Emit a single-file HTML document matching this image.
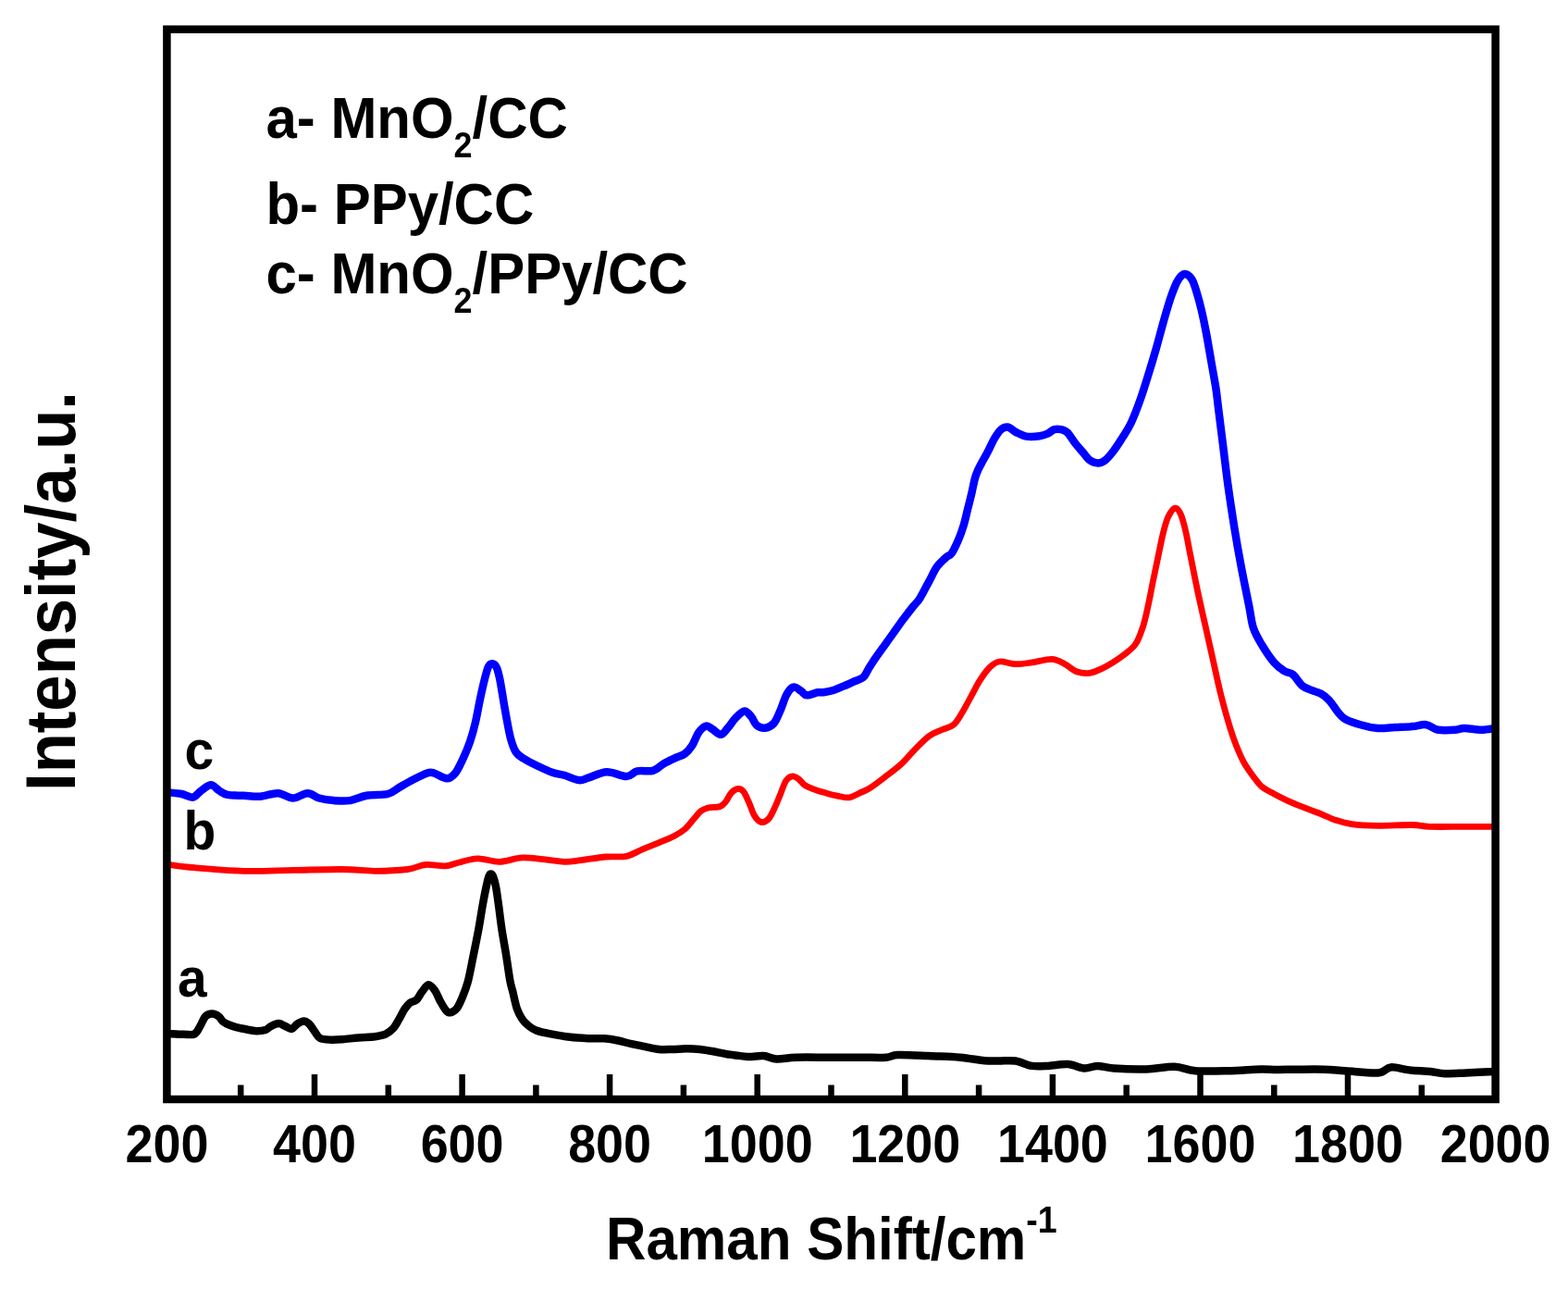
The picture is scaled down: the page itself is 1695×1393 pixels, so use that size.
<!DOCTYPE html>
<html><head><meta charset="utf-8"><title>Raman spectra</title><style>html,body{margin:0;padding:0;background:#fff;}svg{display:block;}</style></head><body>
<svg width="1695" height="1393" viewBox="0 0 1695 1393">
<rect width="1695" height="1393" fill="#fff"/>
<g fill="none" stroke-linejoin="round" stroke-linecap="round">
<path d="M181.0 1117.5 C181.6 1117.5 181.5 1117.2 184.4 1117.2 C187.3 1117.2 194.3 1117.8 198.6 1117.8 C202.9 1117.8 207.4 1118.9 210.4 1117.4 C213.4 1115.9 214.3 1112.2 216.3 1109.0 C218.3 1105.8 220.0 1100.6 222.2 1098.3 C224.4 1096.0 226.9 1095.4 229.3 1095.4 C231.7 1095.4 234.5 1096.9 236.4 1098.3 C238.3 1099.7 239.0 1102.4 241.0 1104.0 C243.0 1105.6 245.4 1106.7 248.2 1107.8 C251.0 1108.9 254.1 1109.8 257.6 1110.7 C261.1 1111.6 266.0 1112.4 269.4 1113.0 C272.8 1113.6 274.8 1114.2 277.7 1114.2 C280.6 1114.2 284.4 1113.9 287.0 1113.0 C289.6 1112.1 290.6 1110.2 293.0 1109.0 C295.4 1107.8 298.8 1106.0 301.3 1106.0 C303.9 1106.0 306.0 1108.0 308.3 1109.0 C310.6 1110.0 313.2 1112.3 315.4 1111.9 C317.6 1111.5 319.1 1108.0 321.3 1106.6 C323.5 1105.2 326.2 1103.4 328.4 1103.4 C330.6 1103.4 332.3 1104.7 334.3 1106.6 C336.3 1108.5 338.2 1112.2 340.2 1114.8 C342.1 1117.4 343.0 1120.5 346.0 1122.0 C349.0 1123.5 354.0 1123.5 358.0 1123.7 C362.0 1123.9 365.1 1123.6 370.0 1123.2 C374.9 1122.8 381.8 1121.9 387.7 1121.4 C393.6 1120.9 400.5 1120.9 405.4 1120.2 C410.3 1119.5 413.8 1118.9 417.2 1117.3 C420.6 1115.7 423.1 1113.4 425.5 1110.8 C427.9 1108.2 429.4 1104.8 431.4 1101.4 C433.4 1098.1 435.3 1093.7 437.3 1090.7 C439.3 1087.8 441.1 1085.4 443.2 1083.7 C445.3 1082.0 448.0 1082.7 450.2 1080.7 C452.4 1078.7 453.9 1074.7 456.1 1071.9 C458.3 1069.2 460.8 1064.4 463.2 1064.2 C465.6 1064.0 468.1 1067.7 470.3 1070.7 C472.5 1073.8 474.2 1079.0 476.2 1082.5 C478.2 1086.0 480.3 1089.9 482.1 1091.9 C483.9 1093.9 484.8 1094.7 486.8 1094.3 C488.8 1093.9 491.7 1092.3 493.9 1089.6 C496.1 1086.8 497.8 1082.5 499.8 1077.8 C501.8 1073.1 503.7 1068.7 505.7 1061.2 C507.7 1053.7 509.8 1042.0 511.7 1032.6 C513.6 1023.2 515.6 1013.9 517.3 1004.6 C519.0 995.3 520.6 984.5 522.0 976.7 C523.4 968.9 524.6 963.0 525.7 958.0 C526.8 953.0 527.7 949.2 528.5 947.0 C529.3 944.8 529.8 944.5 530.5 944.5 C531.2 944.5 532.1 944.8 533.0 947.0 C533.9 949.2 535.0 953.0 536.0 958.0 C537.0 963.0 537.7 968.9 538.8 976.7 C539.9 984.5 541.1 995.3 542.5 1004.6 C543.9 1013.9 545.7 1023.4 547.2 1032.6 C548.7 1041.8 550.2 1053.4 551.4 1060.0 C552.6 1066.6 553.2 1067.0 554.4 1072.0 C555.6 1077.0 557.1 1084.9 558.8 1089.8 C560.5 1094.7 562.5 1098.4 564.7 1101.6 C566.9 1104.8 569.5 1107.0 572.0 1109.0 C574.5 1111.0 575.8 1112.1 579.5 1113.4 C583.2 1114.8 588.1 1115.9 594.2 1117.1 C600.4 1118.3 609.0 1119.9 616.4 1120.8 C623.8 1121.7 632.4 1122.0 638.5 1122.3 C644.6 1122.5 648.3 1121.9 653.2 1122.3 C658.1 1122.7 663.1 1123.5 668.0 1124.5 C672.9 1125.5 677.8 1127.1 682.7 1128.2 C687.6 1129.3 692.6 1130.1 697.5 1131.1 C702.4 1132.1 707.3 1133.5 712.2 1134.0 C717.1 1134.5 722.1 1134.1 727.0 1134.0 C731.9 1133.9 736.8 1133.3 741.7 1133.3 C746.6 1133.3 751.6 1133.5 756.5 1134.0 C761.4 1134.5 766.3 1135.4 771.2 1136.3 C776.1 1137.2 779.9 1138.3 786.0 1139.2 C792.1 1140.1 801.1 1141.6 807.7 1141.9 C814.3 1142.2 820.1 1140.6 825.4 1141.0 C830.7 1141.4 833.7 1144.2 839.6 1144.5 C845.5 1144.8 851.4 1143.0 860.8 1142.7 C870.2 1142.4 884.4 1142.7 896.2 1142.7 C908.0 1142.7 921.3 1142.7 931.6 1142.7 C941.9 1142.7 951.6 1143.2 958.1 1142.7 C964.6 1142.2 963.1 1140.3 970.5 1140.0 C977.9 1139.7 991.2 1140.5 1002.4 1141.0 C1013.6 1141.5 1027.5 1141.8 1037.8 1142.7 C1048.1 1143.6 1057.3 1145.7 1064.3 1146.3 C1071.3 1146.9 1074.4 1146.5 1080.0 1146.5 C1085.6 1146.5 1091.8 1145.6 1097.7 1146.5 C1103.6 1147.4 1109.5 1151.0 1115.4 1151.9 C1121.3 1152.8 1126.6 1152.2 1133.1 1151.9 C1139.6 1151.6 1147.8 1149.7 1154.3 1150.1 C1160.8 1150.5 1166.7 1154.2 1172.0 1154.5 C1177.3 1154.8 1180.9 1151.9 1186.2 1151.9 C1191.5 1151.9 1195.1 1153.9 1203.9 1154.5 C1212.8 1155.1 1228.4 1155.7 1239.3 1155.4 C1250.2 1155.1 1260.6 1152.4 1269.4 1152.7 C1278.2 1153.0 1282.7 1156.5 1292.4 1157.2 C1302.1 1158.0 1316.0 1157.5 1327.8 1157.2 C1339.6 1156.9 1354.5 1155.6 1363.2 1155.4 C1371.9 1155.2 1373.8 1156.0 1380.0 1156.0 C1386.2 1156.0 1392.2 1155.8 1400.7 1155.7 C1409.2 1155.7 1422.3 1155.5 1431.3 1155.7 C1440.2 1156.0 1444.7 1156.6 1454.4 1157.2 C1464.1 1157.8 1481.4 1160.1 1489.6 1159.5 C1497.8 1158.9 1497.8 1153.9 1503.4 1153.4 C1509.0 1152.9 1516.2 1155.6 1523.4 1156.4 C1530.6 1157.2 1540.0 1157.3 1546.4 1158.0 C1552.8 1158.7 1555.3 1160.0 1561.7 1160.3 C1568.1 1160.5 1575.7 1159.9 1584.7 1159.5 C1593.8 1159.1 1610.8 1158.2 1616.0 1158.0" stroke="#000" stroke-width="8.5"/>
<path d="M181.0 934.2 C185.9 934.8 196.7 936.5 210.4 937.7 C224.2 938.9 245.8 940.8 263.5 941.3 C281.2 941.8 298.9 940.7 316.6 940.4 C334.3 940.1 355.0 939.4 369.7 939.5 C384.4 939.6 393.2 941.3 405.0 941.3 C416.8 941.3 431.3 940.6 440.5 939.5 C449.7 938.4 453.2 935.1 460.0 934.5 C466.8 933.9 475.3 936.2 481.2 935.8 C487.1 935.4 489.5 933.5 495.4 932.2 C501.3 930.9 509.2 927.9 516.6 927.8 C524.0 927.6 531.6 931.4 539.6 931.3 C547.6 931.1 556.4 927.3 564.4 926.9 C572.4 926.5 579.7 928.0 587.4 928.7 C595.1 929.4 603.6 931.1 610.4 931.3 C617.2 931.4 620.7 930.5 628.1 929.6 C635.5 928.7 646.5 926.7 654.7 926.0 C662.9 925.3 670.6 926.7 677.2 925.3 C683.8 923.9 688.8 920.2 694.5 917.8 C700.2 915.4 706.0 913.3 711.7 910.9 C717.4 908.5 724.1 905.9 728.9 903.4 C733.7 900.9 736.9 899.0 740.4 896.0 C743.9 893.0 746.7 888.9 749.6 885.6 C752.5 882.4 754.9 878.6 757.6 876.5 C760.3 874.4 762.1 873.8 765.6 873.0 C769.1 872.2 775.3 872.7 778.5 871.5 C781.7 870.3 782.8 868.5 784.8 866.0 C786.8 863.5 788.5 858.9 790.7 856.6 C792.9 854.3 795.6 852.6 797.8 852.4 C800.0 852.2 801.7 852.9 803.7 855.4 C805.7 857.9 807.6 862.9 809.6 867.2 C811.6 871.5 813.3 877.9 815.5 881.4 C817.7 884.9 820.0 887.8 822.6 888.4 C825.2 889.0 828.4 887.6 830.9 884.9 C833.4 882.1 835.8 876.4 837.9 871.9 C840.0 867.4 841.8 862.5 843.8 857.8 C845.8 853.1 847.5 846.8 849.7 843.6 C851.9 840.5 854.4 839.1 856.8 838.9 C859.2 838.7 861.7 840.8 863.9 842.4 C866.1 844.0 866.8 846.4 869.8 848.3 C872.8 850.2 877.7 852.1 881.6 853.6 C885.5 855.1 889.5 856.1 893.4 857.2 C897.3 858.3 901.1 859.3 905.2 860.1 C909.3 860.9 914.3 862.4 918.2 861.9 C922.1 861.4 925.2 858.9 928.8 857.2 C932.4 855.5 935.4 854.8 940.0 851.9 C944.6 849.0 950.8 844.2 956.5 839.8 C962.2 835.4 968.9 830.6 974.2 825.7 C979.5 820.8 983.4 815.6 988.4 810.6 C993.4 805.6 999.3 799.3 1004.3 795.6 C1009.3 791.9 1014.1 790.6 1018.5 788.5 C1022.9 786.4 1027.4 786.2 1030.9 783.2 C1034.4 780.2 1036.5 776.1 1039.7 770.8 C1043.0 765.5 1047.2 757.2 1050.4 751.3 C1053.7 745.4 1056.0 740.4 1059.2 735.4 C1062.4 730.4 1066.3 724.6 1069.8 721.2 C1073.3 717.8 1075.7 715.6 1080.4 715.0 C1085.1 714.4 1092.2 717.6 1098.1 717.7 C1104.0 717.9 1109.3 716.8 1115.8 715.9 C1122.3 715.0 1131.2 712.1 1137.1 712.4 C1143.0 712.7 1146.8 715.5 1151.2 717.7 C1155.6 719.9 1159.2 724.1 1163.6 725.7 C1168.0 727.3 1173.1 728.0 1177.8 727.4 C1182.5 726.8 1187.8 724.0 1192.0 722.1 C1196.2 720.2 1199.1 718.4 1202.7 716.2 C1206.3 714.0 1209.5 712.0 1213.6 708.7 C1217.7 705.4 1223.6 701.6 1227.3 696.4 C1231.0 691.2 1233.2 684.1 1235.5 677.3 C1237.8 670.5 1239.1 663.7 1240.9 655.5 C1242.7 647.3 1244.6 637.1 1246.4 628.2 C1248.2 619.3 1250.0 610.9 1251.8 602.3 C1253.6 593.7 1255.5 583.7 1257.3 576.4 C1259.1 569.1 1260.6 563.1 1262.8 558.6 C1265.0 554.1 1268.0 549.6 1270.3 549.1 C1272.6 548.6 1274.5 551.6 1276.4 555.9 C1278.3 560.2 1280.2 567.6 1281.9 575.0 C1283.6 582.4 1284.7 589.6 1286.8 600.0 C1288.9 610.4 1291.7 624.9 1294.3 637.3 C1296.9 649.7 1299.8 662.2 1302.6 674.6 C1305.4 687.0 1308.2 699.5 1311.0 711.9 C1313.8 724.3 1316.3 736.8 1319.4 749.3 C1322.5 761.8 1326.9 777.3 1329.7 786.6 C1332.5 795.9 1333.7 799.0 1336.2 805.2 C1338.7 811.4 1341.5 818.2 1344.6 823.9 C1347.7 829.6 1351.6 834.8 1354.9 839.2 C1358.2 843.6 1360.6 847.3 1364.3 850.4 C1368.0 853.5 1372.0 855.1 1377.3 857.9 C1382.6 860.7 1389.8 864.4 1396.0 867.2 C1402.2 870.0 1409.1 872.5 1414.7 874.7 C1420.3 876.9 1424.9 878.4 1429.6 880.3 C1434.3 882.2 1437.4 884.2 1442.7 885.9 C1448.0 887.6 1453.5 889.5 1461.3 890.6 C1469.1 891.7 1478.4 892.2 1489.3 892.4 C1500.2 892.5 1517.3 891.3 1526.7 891.5 C1536.1 891.7 1536.1 893.1 1545.4 893.4 C1554.7 893.7 1570.9 893.4 1582.7 893.4 C1594.5 893.4 1610.7 893.4 1616.3 893.4" stroke="#f00" stroke-width="6.8"/>
<path d="M181.0 856.3 C183.5 856.6 191.6 857.1 196.2 858.0 C200.8 858.9 205.0 862.2 208.6 861.6 C212.2 861.0 214.2 856.7 217.5 854.5 C220.8 852.3 224.8 848.3 228.1 848.3 C231.3 848.3 234.1 852.7 237.0 854.5 C239.9 856.3 241.4 858.0 245.8 858.9 C250.2 859.8 257.6 859.5 263.5 859.8 C269.4 860.1 275.0 861.1 281.2 860.7 C287.4 860.3 294.8 856.9 300.7 857.2 C306.6 857.5 311.3 862.5 316.6 862.5 C321.9 862.5 327.8 857.2 332.5 857.2 C337.2 857.2 340.2 861.2 344.9 862.5 C349.6 863.8 355.2 864.7 360.8 865.1 C366.4 865.5 372.6 866.0 378.5 865.1 C384.4 864.2 389.4 861.0 396.2 859.8 C403.0 858.6 413.3 859.5 419.2 858.0 C425.1 856.5 427.2 853.5 431.6 851.0 C436.0 848.5 440.8 845.6 445.8 843.0 C450.8 840.4 457.8 836.8 461.7 835.5 C465.6 834.2 465.6 834.5 469.2 835.5 C472.8 836.5 479.2 841.3 483.0 841.3 C486.8 841.3 489.3 839.0 492.2 835.5 C495.1 832.0 497.5 826.3 500.2 820.6 C502.9 814.9 505.9 807.8 508.2 801.1 C510.5 794.4 512.3 787.7 514.0 780.4 C515.7 773.1 517.1 764.7 518.6 757.4 C520.1 750.1 521.7 742.9 523.2 736.8 C524.7 730.7 526.3 724.0 527.8 720.7 C529.3 717.4 530.9 717.0 532.4 717.2 C533.9 717.4 535.7 718.9 537.0 721.8 C538.3 724.7 539.2 729.0 540.4 734.5 C541.5 740.0 542.8 748.4 543.9 755.1 C545.0 761.8 546.0 767.6 547.3 774.7 C548.6 781.8 550.2 791.3 551.9 797.6 C553.6 803.9 555.3 809.0 557.6 812.6 C559.9 816.2 561.9 817.0 565.7 819.5 C569.5 822.0 575.2 824.9 580.6 827.5 C586.0 830.1 592.9 833.3 597.8 835.0 C602.7 836.7 605.3 836.4 610.0 837.8 C614.7 839.1 621.5 842.7 625.9 843.1 C630.3 843.5 631.5 841.9 636.5 840.4 C641.5 838.9 649.2 834.4 656.0 834.2 C662.8 834.0 671.8 839.2 677.2 839.1 C682.7 839.0 683.9 834.5 688.7 833.4 C693.5 832.3 701.1 834.1 705.9 832.8 C710.7 831.5 713.6 827.6 717.4 825.4 C721.2 823.2 725.1 821.4 728.9 819.6 C732.7 817.8 737.1 816.9 740.4 814.5 C743.6 812.1 745.9 809.1 748.4 805.3 C750.9 801.5 752.8 795.0 755.3 791.5 C757.8 788.0 760.9 785.2 763.4 784.6 C765.9 784.0 767.5 786.5 770.2 788.0 C772.9 789.5 776.6 794.1 779.4 793.8 C782.2 793.5 784.5 789.1 787.2 786.1 C789.9 783.1 792.5 778.5 795.5 775.5 C798.5 772.5 802.1 768.6 804.9 768.4 C807.6 768.2 809.8 771.8 812.0 774.3 C814.2 776.8 815.4 781.6 817.9 783.7 C820.4 785.8 824.1 787.1 827.3 786.7 C830.4 786.3 834.0 784.6 836.8 781.4 C839.5 778.1 841.6 772.1 843.8 767.2 C845.9 762.3 847.7 755.8 849.7 751.9 C851.7 748.0 853.8 745.1 855.6 743.6 C857.4 742.1 858.6 742.4 860.4 743.0 C862.2 743.6 864.3 745.7 866.3 747.1 C868.3 748.5 869.2 751.1 872.2 751.3 C875.2 751.5 881.0 748.8 884.0 748.3 C887.0 747.8 887.2 748.6 890.0 748.2 C892.8 747.8 897.2 747.1 900.8 746.0 C904.4 744.9 907.9 743.2 911.5 741.7 C915.1 740.2 918.7 738.5 922.3 736.9 C925.9 735.3 930.4 734.2 933.1 732.0 C935.8 729.8 936.7 726.3 938.5 723.4 C940.3 720.5 941.2 718.8 943.9 714.8 C946.6 710.8 951.0 704.7 954.6 699.7 C958.2 694.7 961.8 689.6 965.4 684.6 C969.0 679.6 972.6 674.5 976.2 669.6 C979.8 664.8 984.0 659.3 987.0 655.5 C990.0 651.7 991.4 651.3 994.3 646.7 C997.2 642.1 1001.3 633.8 1004.4 628.1 C1007.5 622.4 1009.9 616.6 1013.0 612.3 C1016.1 608.0 1020.4 604.6 1023.0 602.2 C1025.6 599.8 1026.6 601.0 1028.8 597.9 C1031.0 594.8 1033.8 588.5 1036.0 583.5 C1038.2 578.5 1040.0 573.2 1041.7 567.7 C1043.4 562.2 1044.6 556.2 1046.0 550.5 C1047.4 544.8 1048.9 539.3 1050.3 533.3 C1051.7 527.3 1052.9 519.9 1054.6 514.6 C1056.3 509.3 1058.2 506.0 1060.4 501.7 C1062.6 497.4 1065.1 493.4 1067.5 488.8 C1069.9 484.2 1072.3 478.5 1074.7 474.4 C1077.1 470.3 1079.5 466.5 1081.9 464.4 C1084.3 462.2 1086.7 461.3 1089.1 461.5 C1091.5 461.7 1094.5 464.7 1096.3 465.8 C1098.1 466.9 1097.9 467.0 1100.1 468.0 C1102.3 469.0 1105.5 471.1 1109.4 471.6 C1113.3 472.1 1119.7 471.8 1123.6 471.2 C1127.5 470.6 1130.3 469.5 1133.0 468.3 C1135.7 467.1 1137.2 464.8 1139.6 464.1 C1142.0 463.4 1144.8 463.6 1147.2 464.1 C1149.6 464.7 1151.4 465.1 1153.8 467.4 C1156.2 469.7 1158.6 474.2 1161.4 477.8 C1164.2 481.4 1168.0 485.8 1170.8 489.1 C1173.6 492.4 1175.6 495.7 1178.3 497.6 C1181.0 499.5 1184.1 500.4 1186.8 500.4 C1189.5 500.4 1191.6 499.8 1194.4 497.6 C1197.2 495.4 1200.7 491.3 1203.8 487.2 C1206.9 483.1 1210.1 478.0 1213.3 473.0 C1216.5 468.0 1219.4 464.0 1222.7 457.0 C1226.0 450.0 1229.7 440.2 1232.9 431.2 C1236.1 422.2 1239.2 411.8 1242.0 402.8 C1244.8 393.8 1247.1 386.1 1249.7 377.0 C1252.3 367.9 1254.9 357.6 1257.5 348.5 C1260.1 339.4 1262.8 329.8 1265.2 322.7 C1267.6 315.6 1269.8 310.0 1271.7 305.9 C1273.7 301.8 1275.2 299.7 1276.9 298.1 C1278.6 296.5 1280.1 295.6 1282.0 296.2 C1283.9 296.8 1286.5 298.7 1288.5 302.0 C1290.5 305.3 1292.0 310.6 1293.7 316.2 C1295.4 321.8 1297.2 328.3 1298.9 335.6 C1300.6 342.9 1302.3 351.1 1304.0 360.1 C1305.7 369.2 1307.5 380.0 1309.2 389.9 C1310.9 399.8 1313.1 411.2 1314.4 419.6 C1315.7 428.0 1315.6 429.4 1316.9 440.0 C1318.2 450.6 1320.5 468.7 1322.3 483.1 C1324.1 497.5 1325.7 511.8 1327.7 526.2 C1329.7 540.6 1331.9 554.9 1334.2 569.3 C1336.5 583.6 1339.0 597.9 1341.7 612.3 C1344.4 626.6 1348.1 644.3 1350.3 655.4 C1352.5 666.5 1352.6 671.7 1354.9 678.7 C1357.2 685.7 1360.6 691.1 1364.3 697.3 C1368.0 703.5 1373.3 711.3 1377.3 716.0 C1381.3 720.7 1385.1 723.1 1388.5 725.3 C1391.9 727.5 1394.5 726.3 1397.9 729.1 C1401.3 731.9 1404.1 738.7 1409.1 742.1 C1414.1 745.5 1423.0 747.1 1427.7 749.6 C1432.4 752.1 1433.0 752.8 1437.1 757.1 C1441.1 761.5 1446.4 771.4 1452.0 775.7 C1457.6 780.1 1464.5 781.3 1470.7 783.2 C1476.9 785.1 1483.1 786.4 1489.3 786.9 C1495.5 787.4 1501.8 786.3 1508.0 786.0 C1514.2 785.7 1521.1 785.6 1526.7 785.1 C1532.3 784.6 1536.9 782.6 1541.6 783.2 C1546.3 783.8 1549.4 787.9 1554.7 788.8 C1560.0 789.7 1568.7 789.1 1573.4 788.8 C1578.1 788.5 1578.0 786.9 1582.7 786.9 C1587.4 786.9 1595.8 788.8 1601.4 788.8 C1607.0 788.8 1613.8 787.2 1616.3 786.9" stroke="#00f" stroke-width="8.5"/>
</g>
<path d="M180.4 1188V1161 M340.0 1188V1161 M499.6 1188V1161 M659.1 1188V1161 M818.7 1188V1161 M978.3 1188V1161 M1137.9 1188V1161 M1297.5 1188V1161 M1457.0 1188V1161 M1616.6 1188V1161 M260.2 1188V1172.5 M419.8 1188V1172.5 M579.4 1188V1172.5 M738.9 1188V1172.5 M898.5 1188V1172.5 M1058.1 1188V1172.5 M1217.7 1188V1172.5 M1377.3 1188V1172.5 M1536.8 1188V1172.5" stroke="#000" stroke-width="6.5" fill="none"/>
<rect x="180.4" y="31.7" width="1436.2" height="1156.3" fill="none" stroke="#000" stroke-width="8.5"/>
<text transform="translate(180.4 1255.8) scale(0.929 1)" text-anchor="middle" font-family="'Liberation Sans', Arial, sans-serif" font-weight="bold" font-size="58">200</text>
<text transform="translate(340.0 1255.8) scale(0.929 1)" text-anchor="middle" font-family="'Liberation Sans', Arial, sans-serif" font-weight="bold" font-size="58">400</text>
<text transform="translate(499.6 1255.8) scale(0.929 1)" text-anchor="middle" font-family="'Liberation Sans', Arial, sans-serif" font-weight="bold" font-size="58">600</text>
<text transform="translate(659.1 1255.8) scale(0.929 1)" text-anchor="middle" font-family="'Liberation Sans', Arial, sans-serif" font-weight="bold" font-size="58">800</text>
<text transform="translate(818.7 1255.8) scale(0.929 1)" text-anchor="middle" font-family="'Liberation Sans', Arial, sans-serif" font-weight="bold" font-size="58">1000</text>
<text transform="translate(978.3 1255.8) scale(0.929 1)" text-anchor="middle" font-family="'Liberation Sans', Arial, sans-serif" font-weight="bold" font-size="58">1200</text>
<text transform="translate(1137.9 1255.8) scale(0.929 1)" text-anchor="middle" font-family="'Liberation Sans', Arial, sans-serif" font-weight="bold" font-size="58">1400</text>
<text transform="translate(1297.5 1255.8) scale(0.929 1)" text-anchor="middle" font-family="'Liberation Sans', Arial, sans-serif" font-weight="bold" font-size="58">1600</text>
<text transform="translate(1457.0 1255.8) scale(0.929 1)" text-anchor="middle" font-family="'Liberation Sans', Arial, sans-serif" font-weight="bold" font-size="58">1800</text>
<text transform="translate(1616.6 1255.8) scale(0.929 1)" text-anchor="middle" font-family="'Liberation Sans', Arial, sans-serif" font-weight="bold" font-size="58">2000</text>
<text transform="translate(655 1361.4) scale(0.9396 1)" font-family="'Liberation Sans', Arial, sans-serif" font-weight="bold" font-size="64">Raman Shift/cm<tspan font-size="40" dy="-29.5">-1</tspan></text>
<text transform="translate(80.5 855) rotate(-90) scale(0.93 1)" font-family="'Liberation Sans', Arial, sans-serif" font-weight="bold" font-size="76">Intensity/a.u.</text>
<text transform="translate(287.5 148.7) scale(0.9438 1)" font-family="'Liberation Sans', Arial, sans-serif" font-weight="bold" font-size="63.5">a- MnO<tspan font-size="38" dy="21.3">2</tspan><tspan dy="-21.3">/CC</tspan></text>
<text transform="translate(287.5 241.6) scale(0.9438 1)" font-family="'Liberation Sans', Arial, sans-serif" font-weight="bold" font-size="63.5">b- PPy/CC</text>
<text transform="translate(287.5 316.6) scale(0.9438 1)" font-family="'Liberation Sans', Arial, sans-serif" font-weight="bold" font-size="63.5">c- MnO<tspan font-size="38" dy="21.3">2</tspan><tspan dy="-21.3">/PPy/CC</tspan></text>
<text transform="translate(192 1076.8) scale(0.95 1)" font-family="'Liberation Sans', Arial, sans-serif" font-weight="bold" font-size="60">a</text>
<text transform="translate(198.5 918) scale(0.95 1)" font-family="'Liberation Sans', Arial, sans-serif" font-weight="bold" font-size="60">b</text>
<text transform="translate(199.5 830.7) scale(0.95 1)" font-family="'Liberation Sans', Arial, sans-serif" font-weight="bold" font-size="60">c</text>
</svg>
</body></html>
